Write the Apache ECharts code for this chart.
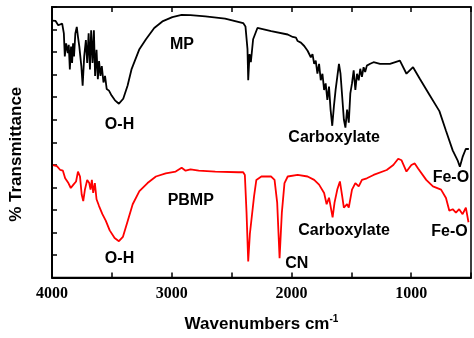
<!DOCTYPE html>
<html>
<head>
<meta charset="utf-8">
<script src="https://cdn.jsdelivr.net/npm/echarts@6/dist/echarts.min.js"></script>
<style>
  html, body { margin: 0; padding: 0; background: #fff; }
  #chart { width: 474px; height: 338px; }
</style>
</head>
<body>
<div id="chart"></div>
<script>
// MP spectrum (black), wavenumber / transmittance (arb. units)
const wnMP = [4000, 3970, 3948, 3937, 3915, 3901, 3893, 3882, 3868, 3860, 3851, 3841, 3832, 3824, 3816,
  3805, 3793, 3783, 3772, 3755, 3744, 3731, 3717, 3706, 3694, 3683, 3673, 3661, 3650, 3640,
  3628, 3617, 3607, 3595, 3584, 3570, 3557, 3543, 3524, 3502, 3474, 3441, 3405, 3369, 3336,
  3270, 3215, 3146, 3078, 2995, 2917, 2843, 2719, 2554, 2403, 2384, 2367, 2361, 2350, 2339, 2320, 2284, 2169,
  2031, 1989, 1962, 1948, 1934, 1921, 1907, 1893, 1879, 1865, 1851, 1838, 1824, 1810, 1797,
  1783, 1769, 1755, 1741, 1727, 1714, 1700, 1686, 1673, 1659, 1645, 1631, 1617, 1603, 1590,
  1576, 1562, 1549, 1535, 1521, 1508, 1494, 1480, 1466, 1452, 1438, 1425, 1411, 1397, 1384,
  1370, 1342, 1314, 1260,
  1177, 1094, 1039, 984, 929, 846, 764, 709, 653, 612, 593, 570, 543, 518];
const tMP = [11.4, 11.38, 11.19, 11.12, 11.26, 10.83, 9.81, 10.39, 9.96, 10.32, 9.23, 10.25, 9.52, 10.39, 9.81,
  10.83, 11.12, 10.68, 10.25, 9.38, 8.51, 9.81, 10.53, 9.52, 10.83, 9.23, 10.97, 9.52, 10.97, 8.94,
  10.1, 8.8, 9.6, 8.94, 9.38, 8.65, 8.94, 8.36, 8.29, 8.07, 7.86, 7.71, 7.93, 8.51, 9.23,
  10.13, 10.57, 11.07, 11.36, 11.55, 11.65, 11.64, 11.58, 11.48, 11.29, 11.14, 10.13, 8.75, 9.91, 9.55, 10.57, 11.07, 10.93,
  10.78, 10.67, 10.64, 10.49, 10.57, 10.42, 10.47, 10.27, 10.35, 10.06, 10.13, 9.77, 9.91, 9.48, 9.62,
  9.04, 9.48, 8.75, 9.04, 8.32, 8.61, 7.88, 8.47, 7.45, 6.73, 7.6, 8.32, 8.9, 9.48, 9.04,
  8.03, 7.01, 6.65, 7.45, 6.87, 8.17, 8.61, 9.19, 8.32, 9.04, 8.75, 9.26, 8.9, 9.33, 9.12,
  9.4, 9.48, 9.55, 9.48,
  9.48, 9.62, 9.04, 9.33, 8.83, 8.1, 7.38, 6.51, 5.64, 5.2, 4.91, 5.35, 5.71, 5.7];

// PBMP spectrum (red)
const wnPBMP = [3992, 3959, 3931, 3909, 3890, 3863, 3843, 3821, 3799, 3783, 3766, 3752, 3739, 3725, 3706,
  3689, 3678, 3667, 3656, 3642, 3628, 3607, 3579, 3551, 3518, 3477, 3441, 3408, 3367, 3326, 3270,
  3202, 3132, 3050, 2967, 2917, 2884, 2843, 2774, 2636, 2444, 2403, 2389, 2375, 2361, 2347, 2334,
  2312, 2293, 2251, 2169, 2141, 2119, 2099, 2080, 2058, 2031, 1948, 1865, 1810, 1769, 1727, 1706,
  1686, 1673, 1656, 1640, 1617, 1595, 1576, 1562, 1549, 1535, 1521, 1494, 1466, 1438, 1411, 1370,
  1314, 1204, 1149, 1108, 1080, 1039, 998, 970, 942, 874, 818, 750, 709, 681, 653, 626,
  599, 570, 543, 521];
const tPBMP = [4.99, 4.94, 4.77, 4.74, 4.4, 4.19, 3.97, 4.12, 4.26, 4.7, 4.48, 3.68, 3.39, 3.9, 4.33,
  4.19, 3.9, 4.33, 3.75, 4.19, 3.47, 3.17, 2.81, 2.52, 2.09, 1.75, 1.61, 1.8, 2.52, 3.25, 3.83,
  4.19, 4.48, 4.62, 4.7, 4.87, 4.74, 4.8, 4.74, 4.7, 4.67, 4.67, 4.55, 2.88, 0.71, 1.94, 1.87,
  3.61, 4.33, 4.48, 4.48, 4.33, 3.32, 0.86, 2.88, 4.19, 4.48, 4.55, 4.48, 4.33, 4.12, 3.75, 3.25,
  3.54, 3.47, 2.67, 3.32, 3.9, 4.26, 3.61, 3.1, 3.03, 3.25, 3.1, 3.9, 4.19, 4.04, 4.33, 4.4,
  4.55, 4.77, 4.99, 5.27, 5.2, 4.7, 4.99, 5.06, 4.84, 4.33, 4.04, 3.9, 3.53, 2.96, 3.03, 2.88,
  3.03, 2.81, 3.1, 2.45];

// band annotations
const noteText = ['MP', 'O-H', 'Carboxylate', 'Fe-O', 'PBMP', 'O-H', 'CN', 'Carboxylate', 'Fe-O'];
const noteWn = [2915, 3436, 1643, 668, 2841, 3436, 1956, 1560, 680];
const noteT = [10.35, 6.78, 6.22, 4.43, 3.39, 0.83, 0.61, 2.09, 2.04];

const pairs = (xs, ys) => xs.map((x, i) => [x, ys[i]]);

const chart = echarts.init(document.getElementById('chart'), null, { renderer: 'canvas' });

const axisColor = '#000';
chart.setOption({
  animation: false,
  backgroundColor: '#fff',
  grid: { left: 52, right: 1, top: 7, bottom: 54, show: true, borderColor: axisColor, borderWidth: 1.5 },
  xAxis: [
    {
      type: 'value',
      inverse: true,
      min: 500,
      max: 4000,
      interval: 500,
      position: 'bottom',
      axisLine: { show: true, lineStyle: { color: axisColor, width: 2 } },
      axisTick: { inside: true, length: 5, lineStyle: { color: axisColor, width: 1.5 } },
      axisLabel: {
        margin: 8,
        color: '#000',
        fontFamily: 'Liberation Serif',
        fontWeight: 'bold',
        fontSize: 16,
        formatter: (v) => (v % 1000 === 0 ? String(v) : ''),
      },
      splitLine: { show: false },
      name: 'Wavenumbers cm{sup|-1}',
      nameLocation: 'middle',
      nameGap: 37,
      nameTextStyle: {
        color: '#000',
        fontFamily: 'Liberation Sans',
        fontWeight: 'bold',
        fontSize: 17,
        rich: {
          sup: { fontFamily: 'Liberation Sans', fontWeight: 'bold', fontSize: 10, verticalAlign: 'top', padding: [0, 0, 10, 0] },
        },
      },
    },
    {
      type: 'value',
      inverse: true,
      min: 500,
      max: 4000,
      interval: 500,
      position: 'top',
      axisLine: { show: true, lineStyle: { color: axisColor, width: 1.5 } },
      axisTick: { inside: true, length: 5, lineStyle: { color: axisColor, width: 1.5 } },
      axisLabel: { show: false },
      splitLine: { show: false },
    },
  ],
  yAxis: {
    type: 'value',
    min: 0,
    max: 12,
    interval: 1,
    axisLine: { show: true, lineStyle: { color: axisColor, width: 2 } },
    axisTick: { inside: true, length: 5, lineStyle: { color: axisColor, width: 1.5 } },
    axisLabel: { show: false },
    splitLine: { show: false },
    name: '% Transmittance',
    nameLocation: 'middle',
    nameGap: 27,
    nameTextStyle: {
      color: '#000',
      fontFamily: 'Liberation Sans',
      fontWeight: 'bold',
      fontSize: 17,
      padding: [0, 24, 0, 0],
    },
  },
  series: [
    {
      name: 'MP',
      type: 'line',
      data: pairs(wnMP, tMP),
      showSymbol: false,
      lineStyle: { color: '#000', width: 1.8 },
      z: 3,
    },
    {
      name: 'PBMP',
      type: 'line',
      data: pairs(wnPBMP, tPBMP),
      showSymbol: false,
      lineStyle: { color: '#ff0000', width: 1.8 },
      z: 3,
    },
    {
      type: 'scatter',
      silent: true,
      symbolSize: 0,
      itemStyle: { opacity: 1 },
      data: noteText.map((t, i) => ({ name: t, value: [noteWn[i], noteT[i]] })),
      label: {
        show: true,
        position: 'inside',
        formatter: (p) => p.name,
        color: '#000',
        opacity: 1,
        fontFamily: 'Liberation Sans',
        fontWeight: 'bold',
        fontSize: 16,
      },
      z: 5,
    },
  ],
});
</script>
</body>
</html>
